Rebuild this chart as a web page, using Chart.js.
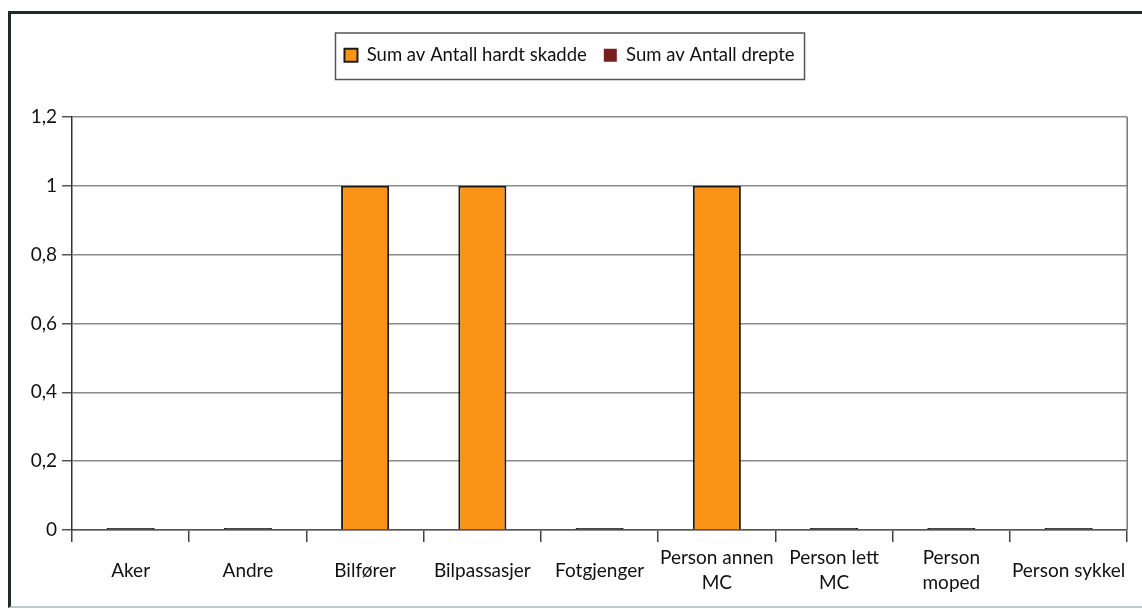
<html>

<head>
  <meta charset="utf-8">
  <style>
    html,
    body {
      margin: 0;
      padding: 0;
      width: 1142px;
      height: 609px;
      overflow: hidden;
      background: #fff;
    }

    #wrap {
      position: absolute;
      left: 0;
      top: 0;
      width: 1142px;
      height: 609px;
    }

    #frame {
      position: absolute;
      left: 8px;
      top: 11px;
      width: 1200px;
      height: 592px;
      border-left: 3px solid #1f2a2c;
      border-top: 3px solid #1f2a2c;
      border-bottom: 2px solid #b9c9cf;
      pointer-events: none;
    }
  </style>
</head>

<body>
  <div id="wrap"><canvas id="myChart" width="1142" height="609"></canvas></div>
  <div id="frame"></div>
  <script src="https://cdn.jsdelivr.net/npm/chart.js@4.4.0/dist/chart.umd.min.js"></script>
  <script type="text/javascript">
    const categories = ['Aker', 'Andre', 'Bilfører', 'Bilpassasjer', 'Fotgjenger',
      ['Person annen', 'MC'], ['Person lett', 'MC'], ['Person', 'moped'], 'Person sykkel'];
    const hardtSkadde = [0, 0, 1, 1, 0, 1, 0, 0, 0];
    const drepte = [0, 0, 0, 0, 0, 0, 0, 0, 0];
    const yMax = 1.2;
    const yStep = 0.2;

    const font = 'Lato, "Open Sans", sans-serif';
    const orange = '#fb9416';

    // box round the legend + right edge of plot area
    const framePlugin = {
      id: 'frames',
      afterDraw(chart) {
        const c = chart.ctx;
        const boxes = chart.legend.legendHitBoxes;
        if (boxes && boxes.length) {
          const first = boxes[0], last = boxes[boxes.length - 1];
          c.save();
          c.strokeStyle = '#555';
          c.lineWidth = 1.5;
          c.strokeRect(first.left - 9, first.top - 13, last.left + last.width - first.left + 19, first.height + 28);
          c.restore();
        }
        const a = chart.chartArea;
        c.save();
        c.strokeStyle = '#777';
        c.lineWidth = 1.5;
        c.beginPath();
        c.moveTo(a.right, a.top);
        c.lineTo(a.right, a.bottom);
        c.stroke();
        c.restore();
      }
    };

    const chartConfig = {
      type: 'bar',
      data: {
        labels: categories,
        datasets: [{
          label: 'Sum av Antall hardt skadde',
          data: hardtSkadde,
          // zero values show up as a thin dark stub in the original
          backgroundColor: (ctx) => (ctx.type === 'data' && ctx.raw === 0) ? '#2a2a2a' : orange,
          borderColor: '#1c1c1c',
          borderWidth: 2,
          minBarLength: 2,
        }, {
          label: 'Sum av Antall drepte',
          data: drepte,
          backgroundColor: '#7a1d1d',
          borderColor: '#7a1d1d',
          borderWidth: 0,
        }],
      },
      options: {
        responsive: false,
        animation: false,
        layout: {
          padding: { left: 10, right: 13, top: 29, bottom: 0 },
        },
        datasets: {
          bar: {
            categoryPercentage: 1,
            barPercentage: 0.41,
          },
        },
        plugins: {
          legend: {
            position: 'top',
            weight: 3000,
            labels: {
              boxWidth: 13,
              boxHeight: 13,
              padding: 17,
              color: '#111',
              font: { family: font, size: 18.5 },
              generateLabels(chart) {
                const items = Chart.defaults.plugins.legend.labels.generateLabels(chart);
                items[0].fillStyle = orange;
                return items;
              },
            },
          },
          title: {
            display: true,
            text: '',
            font: { family: font, size: 17, lineHeight: 1.2 },
            padding: { top: 0, bottom: 22 },
          },
          tooltip: { enabled: false },
        },
        scales: {
          x: {
            stacked: true,
            grid: {
              drawOnChartArea: false,
              drawTicks: true,
              tickLength: 12,
              color: '#444',
              lineWidth: 1.5,
            },
            border: { color: '#555', width: 1.5 },
            ticks: {
              color: '#111',
              padding: 16,
              maxRotation: 0,
              autoSkip: false,
              crossAlign: 'center',
              font: { family: font, size: 19, lineHeight: 1.32 },
            },
            afterFit(scale) {
              scale.height = 79;
            },
          },
          y: {
            stacked: true,
            min: 0,
            max: yMax,
            grid: {
              color: '#8a8a8a',
              lineWidth: 1.5,
              tickLength: 10,
              tickColor: '#555',
            },
            border: { color: '#333', width: 1.5 },
            ticks: {
              stepSize: yStep,
              color: '#111',
              padding: 5,
              font: { family: font, size: 19 },
              callback: (v) => String(Math.round(v * 10) / 10).replace('.', ','),
            },
            afterFit(scale) {
              scale.width = 62;
            },
          },
        },
      },
      plugins: [framePlugin],
    };

    new Chart(document.getElementById('myChart'), chartConfig);
  </script>
</body>

</html>
